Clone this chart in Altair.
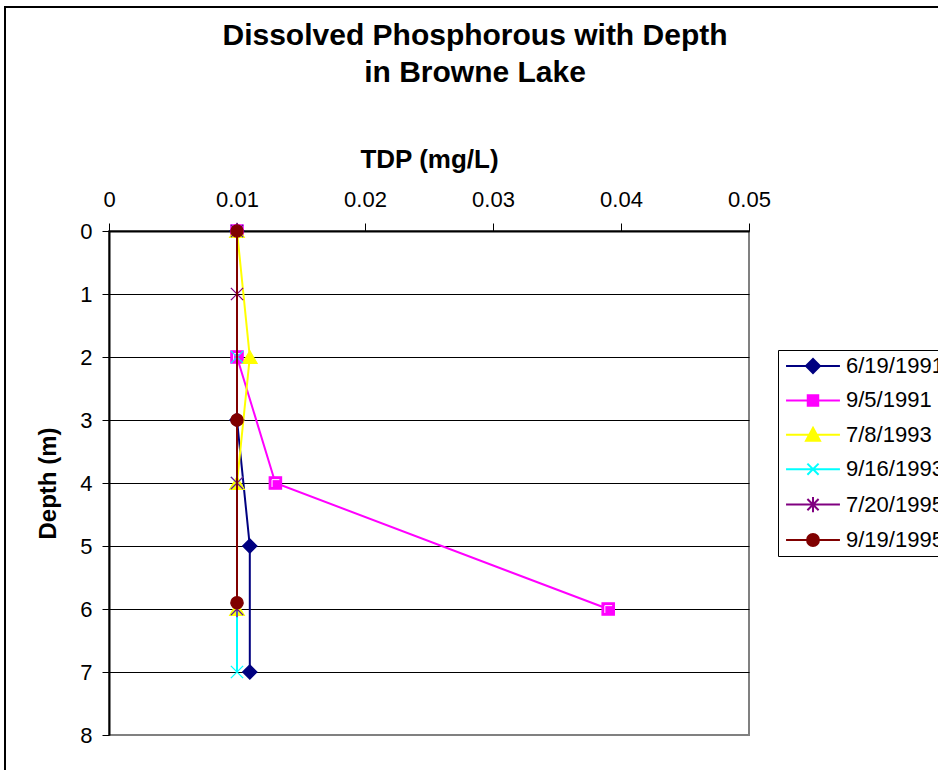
import altair as alt
import pandas as pd

# ---- data -------------------------------------------------------------
series = ["6/19/1991", "9/5/1991", "7/8/1993", "9/16/1993", "7/20/1995", "9/19/1995"]
colors = ["#000080", "#FF00FF", "#FFFF00", "#00FFFF", "#800080", "#800000"]

depth_1 = [0, 3, 5, 7]
tdp_1 = [0.010, 0.010, 0.011, 0.011]
depth_2 = [0, 2, 4, 6]
tdp_2 = [0.010, 0.010, 0.013, 0.039]
depth_3 = [0, 2, 4, 6]
tdp_3 = [0.010, 0.011, 0.010, 0.010]
depth_4 = [0, 2, 4, 6, 7]
tdp_4 = [0.010, 0.010, 0.010, 0.010, 0.010]
depth_5 = [0, 1, 4, 6]
tdp_5 = [0.010, 0.010, 0.010, 0.010]
depth_6 = [0, 3, 5.9]
tdp_6 = [0.010, 0.010, 0.010]

x_ticks = [0, 0.01, 0.02, 0.03, 0.04, 0.05]
y_ticks = [0, 1, 2, 3, 4, 5, 6, 7, 8]
title_lines = ["Dissolved Phosphorous with Depth", "in Browne Lake"]

depths = [depth_1, depth_2, depth_3, depth_4, depth_5, depth_6]
tdps = [tdp_1, tdp_2, tdp_3, tdp_4, tdp_5, tdp_6]
rows = []
for name, ds, ts in zip(series, depths, tdps):
    for d, t in zip(ds, ts):
        rows.append({"series": name, "depth": d, "tdp": t})
df = pd.DataFrame(rows)

FONT = "Liberation Sans"

# ---- marker styles ----------------------------------------------------
X_PATH = "M-1,-1L1,1M-1,1L1,-1"
STAR_PATH = "M-1,-1L1,1M-1,1L1,-1M0,-1.35V1.35"
markers = ["diamond", "square", "triangle-up", X_PATH, STAR_PATH, "circle"]
marker_sizes = [200, 150, 210, 150, 150, 150]
SQUARE_SHINE = "M-0.55,0.65V-0.55H0.65"

LINE = "M-3.85,0H3.85"
legend_shapes = [
    LINE + "M-1,0L0,-1L1,0L0,1Z",
    LINE + "M-0.75,-0.75H0.75V0.75H-0.75Z",
    LINE + "M0,-1L1,0.85H-1Z",
    LINE + "M-0.8,-0.8L0.8,0.8M-0.8,0.8L0.8,-0.8",
    LINE + "M-0.8,-0.8L0.8,0.8M-0.8,0.8L0.8,-0.8M0,-1.1V1.1",
    LINE + "M0.85,0A0.85,0.85,0,1,1,-0.85,0A0.85,0.85,0,1,1,0.85,0Z",
]

x_enc = alt.X(
    "tdp:Q",
    scale=alt.Scale(domain=[0, 0.05], nice=False, zero=False),
    axis=alt.Axis(
        orient="top",
        title="TDP (mg/L)",
        values=x_ticks,
        format="~g",
        grid=False,
        labelFlush=False,
        labelFontSize=22,
        labelPadding=12,
        tickSize=8,
        tickColor="black",
        tickWidth=1,
        domainColor="black",
        domainWidth=2,
        titleFontSize=26,
        titleFontWeight="bold",
        titleBaseline="alphabetic",
        titleY=-64,
        titleX=320,
        labelColor="black",
        titleColor="black",
    ),
)
y_enc = alt.Y(
    "depth:Q",
    scale=alt.Scale(domain=[0, 8], reverse=True, nice=False, zero=False),
    axis=alt.Axis(
        orient="left",
        title="Depth (m)",
        values=y_ticks,
        grid=True,
        gridColor="black",
        gridWidth=1,
        gridOpacity={"condition": {"test": "datum.value >= 8", "value": 0}, "value": 1},
        labelFontSize=22,
        labelPadding=10,
        tickSize=7,
        tickColor="black",
        tickWidth=1,
        domainColor="black",
        domainWidth=2,
        titleFontSize=24,
        titleFontWeight="bold",
        titleAngle=-90,
        titleBaseline="alphabetic",
        titleX=-54,
        titleY=252,
        labelColor="black",
        titleColor="black",
    ),
)

layers = []
for name, col, shp, sz in zip(series, colors, markers, marker_sizes):
    base = alt.Chart(df).transform_filter(alt.datum.series == name)
    line = base.mark_line(color=col, strokeWidth=2).encode(
        x=x_enc, y=y_enc, order=alt.Order("depth:Q")
    )
    pts = base.mark_point(
        shape=shp, filled=True, fill=col, stroke=col, strokeWidth=1.3,
        size=sz, opacity=1
    ).encode(x=x_enc, y=y_enc)
    layers += [line, pts]
    if shp == "square":
        shine = base.mark_point(
            shape=SQUARE_SHINE, filled=False, stroke="white", strokeWidth=1,
            size=sz, opacity=1
        ).encode(x=x_enc, y=y_enc)
        layers.append(shine)

legend_def = alt.Legend(
    orient="none",
    legendX=669,
    legendY=119,
    title=None,
    labelFont=FONT,
    labelFontSize=22,
    labelColor="black",
    strokeColor="black",
    padding=5,
    symbolOffset=19,
    labelOffset=22,
    rowPadding=12.4,
    symbolSize=196,
    symbolStrokeWidth=2,
)
legend_layer = (
    alt.Chart(df)
    .transform_filter(alt.datum.depth < 0)
    .mark_point(filled=True, strokeWidth=2, size=196, opacity=1)
    .encode(
        x=x_enc,
        y=y_enc,
        fill=alt.Fill("series:N", scale=alt.Scale(domain=series, range=colors), legend=legend_def),
        stroke=alt.Stroke("series:N", scale=alt.Scale(domain=series, range=colors), legend=legend_def),
        shape=alt.Shape("series:N", scale=alt.Scale(domain=series, range=legend_shapes), legend=legend_def),
    )
)

title_df = pd.DataFrame({"t": title_lines, "k": [0, 1]})
title1 = (
    alt.Chart(title_df)
    .transform_filter(alt.datum.k == 0)
    .mark_text(font=FONT, fontSize=30, fontWeight="bold", baseline="alphabetic", align="center", color="black")
    .encode(x=alt.value(366), y=alt.value(45 - 231), text="t:N")
)
title2 = (
    alt.Chart(title_df)
    .transform_filter(alt.datum.k == 1)
    .mark_text(font=FONT, fontSize=30, fontWeight="bold", baseline="alphabetic", align="center", color="black")
    .encode(x=alt.value(366), y=alt.value(82 - 231), text="t:N")
)

frame_df = pd.DataFrame({"k": [0]})
frame_left = alt.Chart(frame_df).mark_rule(color="black", strokeWidth=2).encode(
    x=alt.value(5 - 109), y=alt.value(6 - 231), y2=alt.value(780 - 231)
)
frame_top = alt.Chart(frame_df).mark_rule(color="black", strokeWidth=2).encode(
    x=alt.value(4 - 109), x2=alt.value(950 - 109), y=alt.value(7 - 231)
)

chart = (
    alt.layer(*layers, legend_layer, title1, title2, frame_left, frame_top)
    .properties(
        width=640,
        height=504,
        padding={"left": 109, "top": 231, "right": 189, "bottom": 35},
        autosize=alt.AutoSizeParams(type="none"),
        background="white",
    )
    .configure_view(stroke="#808080", strokeWidth=2)
    .configure_axis(labelFont=FONT, titleFont=FONT)
)

chart.save("out.html", embed_options={"renderer": "svg", "actions": False})
